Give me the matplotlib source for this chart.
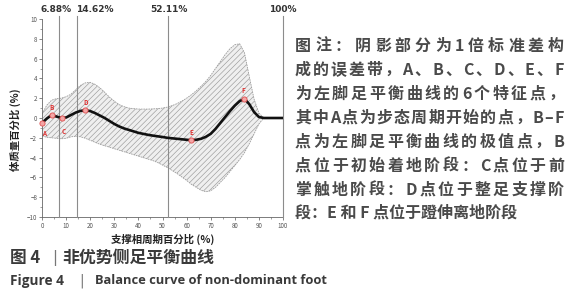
import numpy as np
import matplotlib
matplotlib.use("Agg")
import matplotlib.pyplot as plt

plt.rcParams['font.family'] = ['Noto Sans CJK SC', 'DejaVu Sans']
plt.rcParams['hatch.linewidth'] = 0.45
plt.rcParams['hatch.color'] = '#9a9a9a'

# =====================================================
# DATA
# =====================================================
pct = [0, 2, 4, 6, 8, 10, 12, 14, 16, 18, 20, 22, 24, 26, 28, 30, 32, 34, 36, 38,
       40, 42, 44, 46, 48, 50, 52, 54, 56, 58, 60, 62, 64, 66, 68, 70, 72, 74, 76, 78,
       80, 82, 84, 86, 88, 90, 92, 96, 100]

mean_curve = [-0.5, -0.05, 0.3, 0.15, 0.0, 0.05, 0.3, 0.55, 0.72, 0.78, 0.7, 0.5, 0.25, 0.0,
              -0.3, -0.6, -0.85, -1.05, -1.2, -1.35, -1.5, -1.6, -1.7, -1.78, -1.85, -1.92,
              -2.0, -2.05, -2.1, -2.15, -2.2, -2.25, -2.2, -2.1, -1.9, -1.6, -1.1, -0.5,
              0.1, 0.7, 1.25, 1.7, 1.95, 1.4, 0.6, 0.1, 0.0, 0.0, 0.0]

upper_sd = [0.4, 1.3, 1.8, 1.95, 2.0, 2.15, 2.4, 2.85, 3.3, 3.55, 3.6, 3.4, 3.05, 2.6, 2.1,
            1.7, 1.35, 1.15, 1.0, 0.95, 0.9, 0.9, 0.9, 0.92, 0.95, 1.0, 1.1, 1.25, 1.45,
            1.7, 2.0, 2.35, 2.75, 3.2, 3.7, 4.3, 5.0, 5.7, 6.4, 7.0, 7.4, 7.5, 6.6, 4.2,
            1.9, 0.5, 0.0, 0.0, 0.0]

lower_sd = [-1.8, -1.95, -2.0, -2.05, -2.1, -2.05, -1.9, -1.85, -1.9, -2.05, -2.25, -2.45,
            -2.65, -2.8, -2.95, -3.1, -3.25, -3.4, -3.55, -3.7, -3.85, -4.0, -4.15, -4.3,
            -4.5, -4.75, -5.0, -5.3, -5.6, -5.95, -6.3, -6.7, -7.0, -7.3, -7.45, -7.35,
            -7.0, -6.5, -6.0, -5.4, -4.8, -4.2, -3.5, -2.6, -1.6, -0.6, 0.0, 0.0, 0.0]

point_names = ['A', 'B', 'C', 'D', 'E', 'F']
point_x = [0, 4, 8.5, 18, 62, 84]
point_y = [-0.5, 0.3, 0.0, 0.78, -2.25, 1.95]
label_x = [0.8, 4, 9, 18, 62, 83.5]
label_y = [-1.6, 1.1, -1.4, 1.6, -1.5, 2.8]

phase_lines = [6.88, 14.62, 52.11, 100]
phase_labels = ['6.88%', '14.62%', '52.11%', '100%']
phase_label_x = [6.0, 21.8, 52.8, 100]

note_lines = [
    "图注：阴影部分为1倍标准差构",
    "成的误差带，A、B、C、D、E、F",
    "为左脚足平衡曲线的6个特征点，",
    "其中A点为步态周期开始的点，B–F",
    "点为左脚足平衡曲线的极值点，B",
    "点位于初始着地阶段：C点位于前",
    "掌触地阶段：D点位于整足支撑阶",
]
note_last = "段：E 和 F 点位于蹬伸离地阶段"

# =====================================================
# FIGURE
# =====================================================
W, H = 567, 300
fig = plt.figure(figsize=(W / 100, H / 100), dpi=100)
ax = fig.add_axes([42 / W, 1 - 217 / H, 241 / W, 198 / H])

ax.fill_between(pct, lower_sd, upper_sd, facecolor='#efefef', edgecolor='#9a9a9a',
                hatch='//////', linewidth=0, zorder=1)
ax.plot(pct, upper_sd, color='#9c9c9c', lw=0.6, ls=(0, (2, 1)), zorder=2)
ax.plot(pct, lower_sd, color='#9c9c9c', lw=0.6, ls=(0, (2, 1)), zorder=2)

for xv, lab, lx in zip(phase_lines, phase_labels, phase_label_x):
    ax.plot([xv, xv], [-10, 10.3], color='#8c8c8c', lw=0.8, clip_on=False, zorder=3)
    ax.text(lx, 10.55, lab, ha='center', va='bottom', fontsize=6.5, fontweight='bold',
            color='#333333', family=['DejaVu Sans'])

ax.plot(pct, mean_curve, color='#111111', lw=1.9, zorder=4)

ax.scatter(point_x, point_y, s=14, facecolor='#f4a5a5', edgecolor='#e05050',
           linewidth=0.6, zorder=5, clip_on=False)
for n, lx, ly in zip(point_names, label_x, label_y):
    ax.text(lx, ly, n, ha='center', va='center', fontsize=4.5, color='#e03030',
            fontweight='bold', zorder=6)

ax.set_xlim(0, 100)
ax.set_ylim(-10, 10)
ax.set_xticks(range(0, 101, 10))
ax.set_xticks(range(0, 101, 5), minor=True)
ax.set_yticks(range(-10, 11, 2))
ax.set_yticks(range(-10, 11, 1), minor=True)
ax.tick_params(labelsize=4.5, colors='#555555', length=2, width=0.5, pad=1.5)
ax.tick_params(which='minor', length=1.2, width=0.4, colors='#555555')
for side in ['top', 'right']:
    ax.spines[side].set_visible(False)
for side in ['left', 'bottom']:
    ax.spines[side].set_color('#666666')
    ax.spines[side].set_linewidth(0.6)

fig.text(163 / W, 1 - 239 / H, '支撑相周期百分比 (%)', ha='center', va='center',
         fontsize=7.5, fontweight='bold', color='#222222')
fig.text(15 / W, 1 - 130 / H, '体质量百分比 (%)', ha='center', va='center',
         rotation=90, fontsize=7.5, fontweight='bold', color='#222222')

# =====================================================
# NOTE TEXT (justified lines)
# =====================================================
renderer = fig.canvas.get_renderer()
note_x0, note_x1 = 295, 564
note_y = [46, 70, 94, 118, 142, 166, 190, 213]
note_style = dict(fontsize=11.5, color='#4a4a4a', fontweight='bold', va='center')


def justified(text, y_px):
    chars = [c for c in text if c != ' ']
    objs = [fig.text(0, 1 - y_px / H, c, **note_style) for c in chars]
    widths = [t.get_window_extent(renderer).width for t in objs]
    gap = (note_x1 - note_x0 - sum(widths)) / (len(chars) - 1)
    xpos = note_x0
    for t, w in zip(objs, widths):
        t.set_x(xpos / W)
        xpos += w + gap


for line, yp in zip(note_lines, note_y):
    justified(line, yp)
fig.text(note_x0 / W, 1 - note_y[-1] / H, note_last, **note_style)

# =====================================================
# CAPTION
# =====================================================
fig.text(10 / W, 1 - 258 / H, '图 4', fontsize=12, fontweight='bold',
         color='#3a3a3a', va='center')
fig.text(52 / W, 1 - 258 / H, '|', fontsize=11, color='#777777', va='center',
         family=['DejaVu Sans'])
fig.text(62 / W, 1 - 258 / H, '非优势侧足平衡曲线', fontsize=12.2, fontweight='bold',
         color='#3a3a3a', va='center')
fig.text(10 / W, 1 - 281 / H, 'Figure 4', fontsize=9.8, fontweight='bold',
         color='#3a3a3a', va='center', family=['Open Sans'])
fig.text(79 / W, 1 - 281 / H, '|', fontsize=10, color='#777777', va='center',
         family=['DejaVu Sans'])
fig.text(95 / W, 1 - 281 / H, 'Balance curve of non-dominant foot', fontsize=9.3,
         fontweight='bold', color='#3a3a3a', va='center', family=['Open Sans'])

fig.savefig('out.png', dpi=100)
